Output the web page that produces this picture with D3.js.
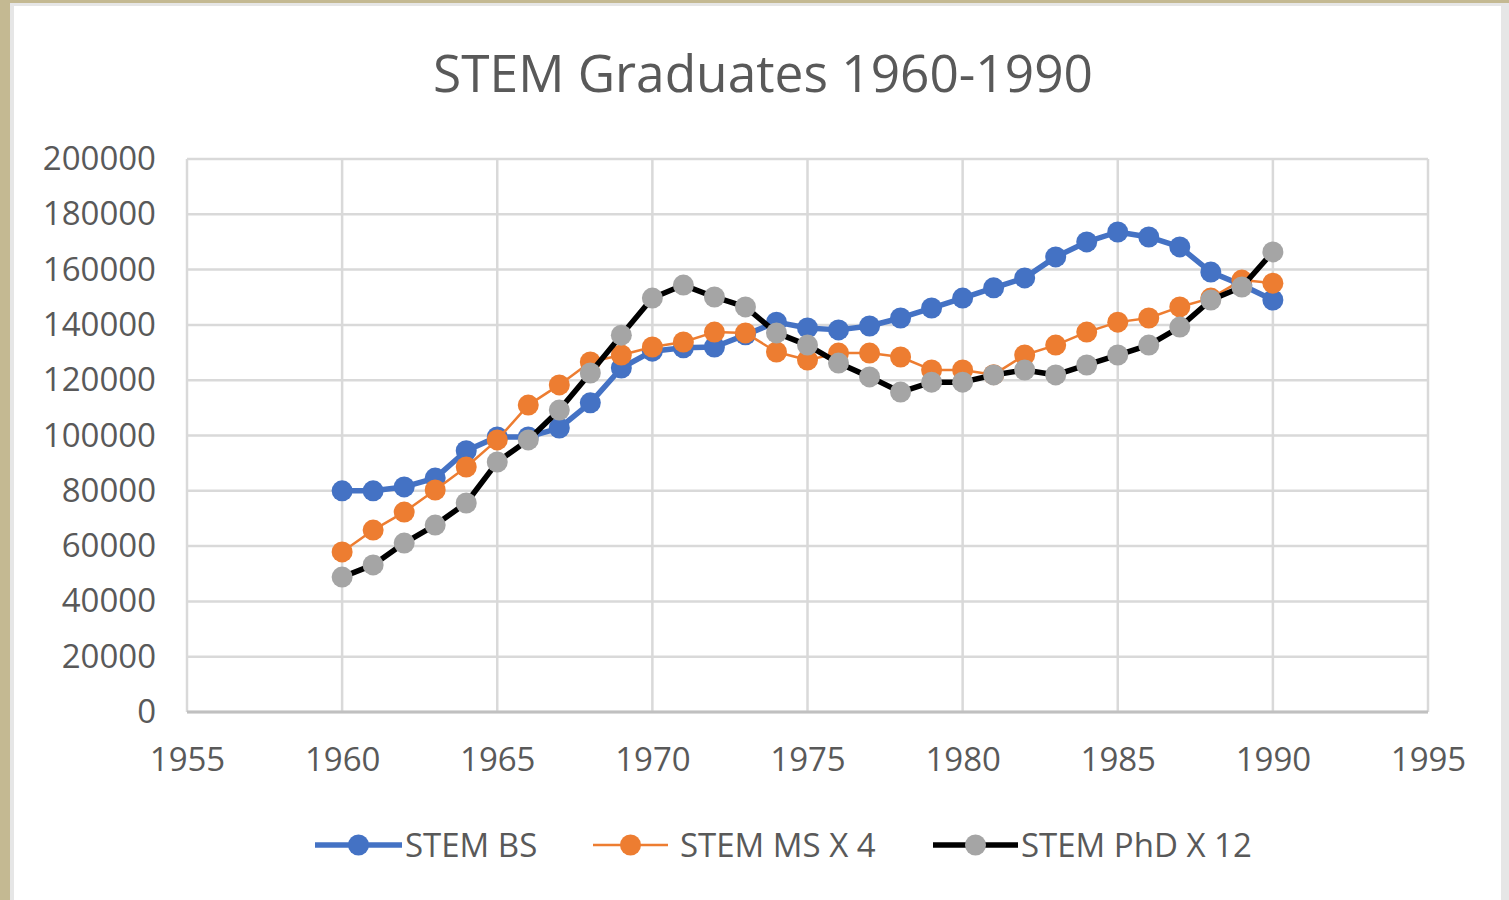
<!DOCTYPE html>
<html>
<head>
<meta charset="utf-8">
<script src="https://cdn.jsdelivr.net/npm/d3@7"></script>
<style>
  html, body { margin: 0; padding: 0; background: #fff; }
  svg text { font-family: "Open Sans", "DejaVu Sans", sans-serif; fill: #595959; }
</style>
</head>
<body>
<div id="chart"></div>
<script>
// data
const years = d3.range(1960, 1991);
const stemBS = [80000, 80000, 81400, 84600, 94500, 99500, 99500, 102700, 111800, 124400,
  130500, 131700, 132000, 136400, 141000, 138900, 138200, 139600, 142500, 146100,
  149700, 153400, 157000, 164600, 170000, 173600, 171800, 168200, 159100, 154400, 149000];
const stemMS = [57900, 65800, 72300, 80300, 88600, 98400, 111000, 118300, 126600, 129100,
  132000, 133800, 137400, 137100, 130200, 127300, 129800, 129800, 128400, 123700,
  123700, 122000, 129100, 132700, 137400, 141000, 142500, 146500, 149700, 156200, 155100];
const stemPhD = [48800, 53200, 61100, 67600, 75600, 90400, 98400, 109200, 122600, 136300,
  149700, 154400, 150100, 146500, 137100, 132700, 126200, 121200, 115700, 119300,
  119300, 121900, 123700, 121900, 125500, 129100, 132700, 139200, 149000, 153700, 166400];
const seriesNames = ["STEM BS", "STEM MS X 4", "STEM PhD X 12"];
const xTicks = [1955, 1960, 1965, 1970, 1975, 1980, 1985, 1990, 1995];
const yTicks = d3.range(0, 200001, 20000);

const W = 1509, H = 900;
const plot = { left: 187, right: 1428, top: 159, bottom: 712 };
const fs = 33;

const series = [
  { name: seriesNames[0], values: stemBS, line: "#4472C4", lw: 5.5, dot: "#4472C4" },
  { name: seriesNames[1], values: stemMS, line: "#ED7D31", lw: 2.5, dot: "#ED7D31" },
  { name: seriesNames[2], values: stemPhD, line: "#000000", lw: 5.5, dot: "#A5A5A5" }
];

const svg = d3.select("#chart").append("svg")
  .attr("width", W).attr("height", H);

// frame like the screenshot
svg.append("rect").attr("width", W).attr("height", H).attr("fill", "#c4b992");
svg.append("rect").attr("x", 10).attr("y", 3).attr("width", W - 10).attr("height", H - 3).attr("fill", "#e6e6e6");
svg.append("rect").attr("x", 14).attr("y", 6).attr("width", W - 22).attr("height", H - 6).attr("fill", "#ffffff");

const x = d3.scaleLinear().domain([1955, 1995]).range([plot.left, plot.right]);
const y = d3.scaleLinear().domain([0, 200000]).range([plot.bottom, plot.top]);

// gridlines
const grid = svg.append("g");
grid.selectAll("line.h").data(yTicks).enter().append("line")
  .attr("x1", plot.left).attr("x2", plot.right)
  .attr("y1", d => y(d)).attr("y2", d => y(d))
  .attr("stroke", "#d9d9d9").attr("stroke-width", 2.5);
grid.selectAll("line.v").data(xTicks).enter().append("line")
  .attr("y1", plot.top).attr("y2", plot.bottom)
  .attr("x1", d => x(d)).attr("x2", d => x(d))
  .attr("stroke", "#d9d9d9").attr("stroke-width", 2.5);
// x axis line
svg.append("line")
  .attr("x1", plot.left).attr("x2", plot.right)
  .attr("y1", y(0)).attr("y2", y(0))
  .attr("stroke", "#c0c0c0").attr("stroke-width", 3);

// axes labels
const xAxis = d3.axisBottom(x).tickValues(xTicks).tickFormat(d3.format("d")).tickSize(0).tickPadding(0);
const gx = svg.append("g").attr("transform", "translate(0," + (plot.bottom + 36) + ")").call(xAxis);
gx.select(".domain").remove();
gx.selectAll("text").attr("font-size", fs).attr("dy", "0.71em").style("font-family", null);

const yAxis = d3.axisLeft(y).tickValues(yTicks).tickFormat(d3.format("d")).tickSize(0).tickPadding(0);
const gy = svg.append("g").attr("transform", "translate(156,0)").call(yAxis);
gy.select(".domain").remove();
gy.selectAll("text").attr("font-size", fs).style("font-family", null);
svg.selectAll(".tick text").attr("fill", "#595959");

// title
const title = svg.append("text")
  .attr("x", 763).attr("y", 92)
  .attr("text-anchor", "middle")
  .attr("font-size", 44)
  .text("STEM Graduates 1960-1990");
const tw = title.node().getComputedTextLength();
title.attr("font-size", 44 * 660 / tw);

// lines and markers
const line = d3.line().x((d, i) => x(years[i])).y(d => y(d));
series.forEach(s => {
  const g = svg.append("g");
  g.append("path").datum(s.values)
    .attr("d", line)
    .attr("fill", "none")
    .attr("stroke", s.line)
    .attr("stroke-width", s.lw)
    .attr("stroke-linejoin", "round");
  g.selectAll("circle").data(s.values).enter().append("circle")
    .attr("cx", (d, i) => x(years[i]))
    .attr("cy", d => y(d))
    .attr("r", 10.5)
    .attr("fill", s.dot);
});

// legend
const legendPos = [
  { x0: 315, x1: 402, tx: 405 },
  { x0: 593, x1: 668, tx: 680 },
  { x0: 933, x1: 1018, tx: 1021 }
];
const legend = svg.append("g");
series.forEach((s, i) => {
  const p = legendPos[i];
  const ly = 845;
  legend.append("line")
    .attr("x1", p.x0).attr("x2", p.x1).attr("y1", ly).attr("y2", ly)
    .attr("stroke", s.line).attr("stroke-width", s.lw);
  legend.append("circle")
    .attr("cx", (p.x0 + p.x1) / 2).attr("cy", ly).attr("r", 10.5).attr("fill", s.dot);
  legend.append("text")
    .attr("x", p.tx).attr("y", ly + 12)
    .attr("font-size", fs)
    .text(s.name);
});
</script>
</body>
</html>
